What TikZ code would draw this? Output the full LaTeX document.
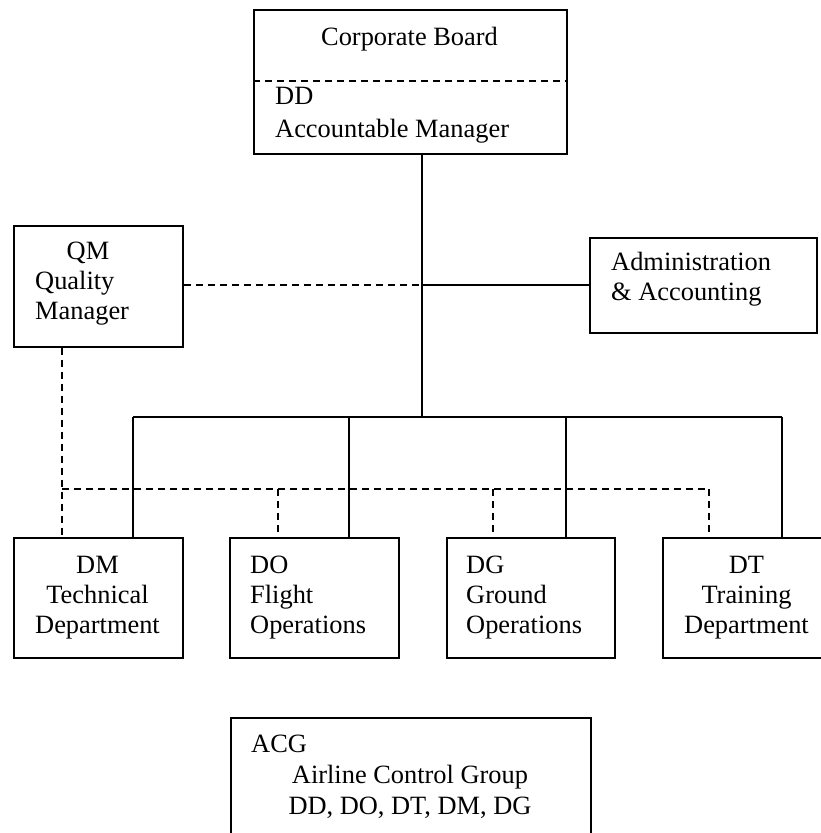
\documentclass[tikz,border=0pt]{standalone}
\usepackage{fontspec}
\setmainfont{Liberation Serif}
\begin{document}
\begin{tikzpicture}[x=1pt,y=-1pt,
  box/.style={draw, line width=1.6pt, rectangle, inner sep=0pt, anchor=north west},
  txt/.style={inner sep=0pt, font=\fontsize{26.4}{30}\selectfont},
  conn/.style={line width=1.6pt},
  dconn/.style={line width=1.6pt, dash pattern=on 7pt off 5pt}]
\useasboundingbox (0,0) rectangle (821,833);
% boxes
\node[box, minimum width=313pt, minimum height=144pt] (cb) at (253,9) {};
\node[box, minimum width=169pt, minimum height=121pt] (qm) at (13,225) {};
\node[box, minimum width=227pt, minimum height=95pt] (adm) at (589,237) {};
\node[box, minimum width=169pt, minimum height=120pt] (dm) at (13,537) {};
\node[box, minimum width=169pt, minimum height=120pt] (do) at (229,537) {};
\node[box, minimum width=168pt, minimum height=120pt] (dg) at (446,537) {};
\node[box, minimum width=169pt, minimum height=120pt] (dt) at (662,537) {};
\node[box, minimum width=360pt, minimum height=140pt] (acg) at (230,717) {};
% dashed divider in corporate board
\draw[dconn] (cb.west |- 0,81) coordinate (cbl) -- (cb.east |- cbl);
% texts
\node[txt, anchor=base] (t1) at (409.5,45) {Corporate Board};
\node[txt, anchor=base west] (t2) at (275,104) {DD};
\node[txt, anchor=base west] (t3) at (275,137) {Accountable Manager};
\node[txt, anchor=base] (q1) at (88,259) {QM};
\node[txt, anchor=base west] (q2) at (35,289) {Quality};
\node[txt, anchor=base west] (q3) at (35,319) {Manager};
\node[txt, anchor=base west] (a1) at (611,270) {Administration};
\node[txt, anchor=base west] (a2) at (611,300) {\& Accounting};
\node[txt, anchor=base] (m1) at (97.5,573) {DM};
\node[txt, anchor=base] (m2) at (97.5,603) {Technical};
\node[txt, anchor=base] (m3) at (97.5,633) {Department};
\node[txt, anchor=base west] (o1) at (250,573) {DO};
\node[txt, anchor=base west] (o2) at (250,603) {Flight};
\node[txt, anchor=base west] (o3) at (250,633) {Operations};
\node[txt, anchor=base west] (g1) at (466,573) {DG};
\node[txt, anchor=base west] (g2) at (466,603) {Ground};
\node[txt, anchor=base west] (g3) at (466,633) {Operations};
\node[txt, anchor=base] (r1) at (746.5,573) {DT};
\node[txt, anchor=base] (r2) at (746.5,603) {Training};
\node[txt, anchor=base] (r3) at (746.5,633) {Department};
\node[txt, anchor=base west] (c1) at (251,752) {ACG};
\node[txt, anchor=base] (c2) at (410,783) {Airline Control Group};
\node[txt, anchor=base] (c3) at (410,814) {DD, DO, DT, DM, DG};
% junction coordinates
\coordinate (j1) at (422,285);
\coordinate (j2) at (422,417);
\coordinate (b1) at (133,417);
\coordinate (b2) at (349,417);
\coordinate (b3) at (566,417);
\coordinate (b4) at (782,417);
\coordinate (d0) at (62,489);
\coordinate (d1) at (278,489);
\coordinate (d2) at (493,489);
\coordinate (d3) at (709,489);
% solid connectors
\draw[conn] (cb.south -| j2) -- (j2);
\draw[conn] (j1) -- (adm.west |- j1);
\draw[conn] (b1) -- (b4);
\draw[conn] (b1) -- (b1 |- dm.north);
\draw[conn] (b2) -- (b2 |- do.north);
\draw[conn] (b3) -- (b3 |- dg.north);
\draw[conn] (b4) -- (b4 |- dt.north);
% dashed connectors
\draw[dconn] (qm.east |- j1) -- (j1);
\draw[dconn] (qm.south -| d0) -- (d0 |- dm.north);
\draw[dconn] (d0) -- (d3);
\draw[dconn] (d1) -- (d1 |- do.north);
\draw[dconn] (d2) -- (d2 |- dg.north);
\draw[dconn] (d3) -- (d3 |- dt.north);
\end{tikzpicture}
\end{document}
